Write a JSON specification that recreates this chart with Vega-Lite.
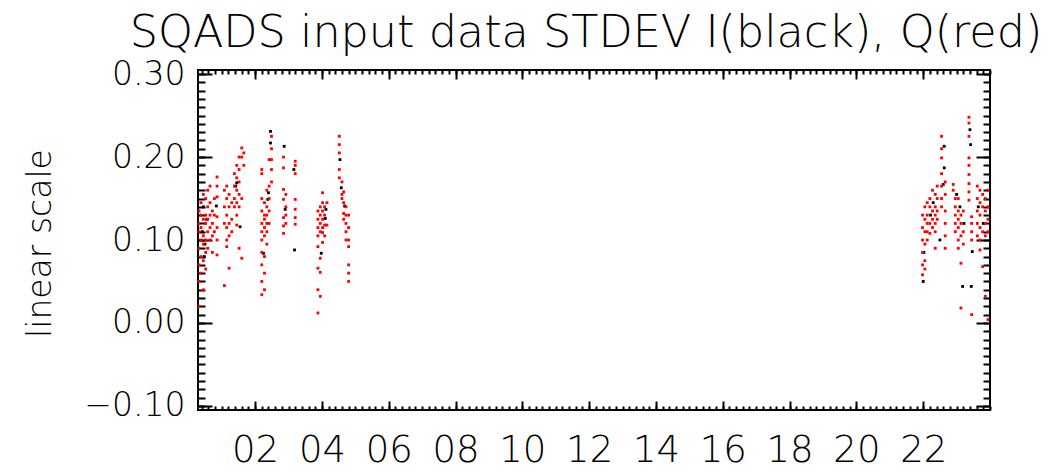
{
  "$schema": "https://vega.github.io/schema/vega-lite/v6.json",
  "width": 792,
  "height": 340,
  "autosize": {"type": "none"},
  "padding": {"left": 198, "top": 70, "right": 65, "bottom": 63},
  "background": "white",
  "title": {"text": "SQADS input data STDEV I(black), Q(red)", "font": "DejaVu Sans", "fontSize": 44.5, "fontWeight": 200, "color": "black", "anchor": "middle", "offset": 2, "dx": -8},
  "config": {
    "view": {"stroke": "black", "strokeWidth": 2},
    "axis": {"domain": false, "grid": false, "tickColor": "black", "tickWidth": 2, "labelColor": "black", "labelFont": "DejaVu Sans", "labelFontWeight": 200, "titleFont": "DejaVu Sans", "titleFontWeight": 200, "titleColor": "black", "labelFlush": false, "labelOverlap": false}
  },
  "data": {"values": [
    {"t":0.45,"v":0.14,"c":"I"},{"t":0.42,"v":0.11,"c":"I"},{"t":0.50,"v":0.095,"c":"I"},{"t":0.48,"v":0.08,"c":"I"},{"t":0.55,"v":0.125,"c":"I"},{"t":0.84,"v":0.141,"c":"I"},{"t":1.42,"v":0.165,"c":"I"},{"t":1.45,"v":0.169,"c":"I"},{"t":1.55,"v":0.116,"c":"I"},{"t":2.40,"v":0.157,"c":"I"},{"t":2.38,"v":0.149,"c":"I"},{"t":2.25,"v":0.084,"c":"I"},{"t":2.46,"v":0.231,"c":"I"},{"t":2.46,"v":0.217,"c":"I"},{"t":2.87,"v":0.213,"c":"I"},{"t":2.90,"v":0.137,"c":"I"},{"t":3.18,"v":0.088,"c":"I"},{"t":3.16,"v":0.185,"c":"I"},{"t":3.98,"v":0.084,"c":"I"},{"t":4.12,"v":0.137,"c":"I"},{"t":4.10,"v":0.126,"c":"I"},{"t":4.54,"v":0.197,"c":"I"},{"t":4.58,"v":0.163,"c":"I"},{"t":4.68,"v":0.141,"c":"I"},{"t":22.02,"v":0.085,"c":"I"},{"t":22.00,"v":0.05,"c":"I"},{"t":22.30,"v":0.145,"c":"I"},{"t":22.22,"v":0.13,"c":"I"},{"t":22.63,"v":0.213,"c":"I"},{"t":22.63,"v":0.187,"c":"I"},{"t":22.60,"v":0.167,"c":"I"},{"t":22.50,"v":0.10,"c":"I"},{"t":23.00,"v":0.155,"c":"I"},{"t":23.10,"v":0.14,"c":"I"},{"t":23.18,"v":0.044,"c":"I"},{"t":23.22,"v":0.12,"c":"I"},{"t":23.40,"v":0.233,"c":"I"},{"t":23.42,"v":0.215,"c":"I"},{"t":23.47,"v":0.086,"c":"I"},{"t":23.44,"v":0.044,"c":"I"},{"t":23.65,"v":0.14,"c":"I"},{"t":23.80,"v":0.12,"c":"I"},
    {"t":0.32,"v":0.05,"c":"Q"},{"t":0.32,"v":0.07,"c":"Q"},{"t":0.32,"v":0.09,"c":"Q"},{"t":0.32,"v":0.11,"c":"Q"},{"t":0.32,"v":0.12,"c":"Q"},{"t":0.32,"v":0.135,"c":"Q"},{"t":0.32,"v":0.02,"c":"Q"},
    {"t":0.38,"v":0.06,"c":"Q"},{"t":0.38,"v":0.08,"c":"Q"},{"t":0.38,"v":0.10,"c":"Q"},{"t":0.38,"v":0.115,"c":"Q"},{"t":0.38,"v":0.13,"c":"Q"},{"t":0.38,"v":0.145,"c":"Q"},
    {"t":0.45,"v":0.04,"c":"Q"},{"t":0.45,"v":0.075,"c":"Q"},{"t":0.45,"v":0.095,"c":"Q"},{"t":0.45,"v":0.105,"c":"Q"},{"t":0.45,"v":0.125,"c":"Q"},{"t":0.45,"v":0.155,"c":"Q"},
    {"t":0.52,"v":0.065,"c":"Q"},{"t":0.52,"v":0.085,"c":"Q"},{"t":0.52,"v":0.10,"c":"Q"},{"t":0.52,"v":0.12,"c":"Q"},{"t":0.52,"v":0.13,"c":"Q"},{"t":0.52,"v":0.15,"c":"Q"},
    {"t":0.58,"v":0.09,"c":"Q"},{"t":0.58,"v":0.11,"c":"Q"},{"t":0.58,"v":0.125,"c":"Q"},{"t":0.58,"v":0.14,"c":"Q"},{"t":0.58,"v":0.16,"c":"Q"},
    {"t":0.65,"v":0.10,"c":"Q"},{"t":0.65,"v":0.115,"c":"Q"},{"t":0.65,"v":0.13,"c":"Q"},{"t":0.65,"v":0.145,"c":"Q"},{"t":0.65,"v":0.165,"c":"Q"},
    {"t":0.72,"v":0.085,"c":"Q"},{"t":0.72,"v":0.105,"c":"Q"},{"t":0.72,"v":0.12,"c":"Q"},{"t":0.72,"v":0.135,"c":"Q"},
    {"t":0.78,"v":0.11,"c":"Q"},{"t":0.78,"v":0.13,"c":"Q"},{"t":0.78,"v":0.15,"c":"Q"},
    {"t":0.86,"v":0.176,"c":"Q"},{"t":0.86,"v":0.165,"c":"Q"},{"t":0.86,"v":0.152,"c":"Q"},{"t":0.86,"v":0.128,"c":"Q"},{"t":0.86,"v":0.115,"c":"Q"},{"t":0.86,"v":0.10,"c":"Q"},{"t":0.86,"v":0.082,"c":"Q"},
    {"t":1.08,"v":0.16,"c":"Q"},{"t":1.08,"v":0.14,"c":"Q"},{"t":1.08,"v":0.12,"c":"Q"},{"t":1.08,"v":0.045,"c":"Q"},
    {"t":1.15,"v":0.165,"c":"Q"},{"t":1.15,"v":0.15,"c":"Q"},{"t":1.15,"v":0.13,"c":"Q"},{"t":1.15,"v":0.115,"c":"Q"},{"t":1.15,"v":0.10,"c":"Q"},{"t":1.15,"v":0.092,"c":"Q"},
    {"t":1.22,"v":0.155,"c":"Q"},{"t":1.22,"v":0.14,"c":"Q"},{"t":1.22,"v":0.12,"c":"Q"},{"t":1.22,"v":0.105,"c":"Q"},{"t":1.22,"v":0.066,"c":"Q"},
    {"t":1.30,"v":0.145,"c":"Q"},{"t":1.30,"v":0.125,"c":"Q"},{"t":1.30,"v":0.11,"c":"Q"},
    {"t":1.38,"v":0.18,"c":"Q"},{"t":1.38,"v":0.165,"c":"Q"},{"t":1.38,"v":0.15,"c":"Q"},{"t":1.38,"v":0.14,"c":"Q"},
    {"t":1.45,"v":0.19,"c":"Q"},{"t":1.45,"v":0.175,"c":"Q"},{"t":1.45,"v":0.16,"c":"Q"},{"t":1.45,"v":0.145,"c":"Q"},{"t":1.45,"v":0.13,"c":"Q"},{"t":1.45,"v":0.118,"c":"Q"},
    {"t":1.52,"v":0.20,"c":"Q"},{"t":1.52,"v":0.185,"c":"Q"},{"t":1.52,"v":0.17,"c":"Q"},{"t":1.52,"v":0.155,"c":"Q"},{"t":1.52,"v":0.14,"c":"Q"},{"t":1.52,"v":0.09,"c":"Q"},
    {"t":1.60,"v":0.211,"c":"Q"},{"t":1.60,"v":0.20,"c":"Q"},{"t":1.60,"v":0.15,"c":"Q"},{"t":1.60,"v":0.078,"c":"Q"},
    {"t":1.66,"v":0.205,"c":"Q"},{"t":1.66,"v":0.19,"c":"Q"},
    {"t":2.20,"v":0.185,"c":"Q"},{"t":2.20,"v":0.18,"c":"Q"},{"t":2.20,"v":0.15,"c":"Q"},{"t":2.20,"v":0.135,"c":"Q"},{"t":2.20,"v":0.12,"c":"Q"},{"t":2.20,"v":0.11,"c":"Q"},{"t":2.20,"v":0.10,"c":"Q"},{"t":2.20,"v":0.085,"c":"Q"},{"t":2.20,"v":0.07,"c":"Q"},{"t":2.20,"v":0.05,"c":"Q"},{"t":2.20,"v":0.034,"c":"Q"},
    {"t":2.28,"v":0.145,"c":"Q"},{"t":2.28,"v":0.13,"c":"Q"},{"t":2.28,"v":0.125,"c":"Q"},{"t":2.28,"v":0.115,"c":"Q"},{"t":2.28,"v":0.105,"c":"Q"},{"t":2.28,"v":0.08,"c":"Q"},{"t":2.28,"v":0.06,"c":"Q"},{"t":2.28,"v":0.04,"c":"Q"},
    {"t":2.35,"v":0.16,"c":"Q"},{"t":2.35,"v":0.14,"c":"Q"},{"t":2.35,"v":0.13,"c":"Q"},{"t":2.35,"v":0.12,"c":"Q"},{"t":2.35,"v":0.11,"c":"Q"},{"t":2.35,"v":0.095,"c":"Q"},
    {"t":2.42,"v":0.197,"c":"Q"},{"t":2.42,"v":0.165,"c":"Q"},{"t":2.42,"v":0.15,"c":"Q"},{"t":2.42,"v":0.135,"c":"Q"},{"t":2.42,"v":0.12,"c":"Q"},
    {"t":2.49,"v":0.225,"c":"Q"},{"t":2.49,"v":0.21,"c":"Q"},{"t":2.49,"v":0.197,"c":"Q"},{"t":2.49,"v":0.185,"c":"Q"},{"t":2.49,"v":0.17,"c":"Q"},
    {"t":2.85,"v":0.20,"c":"Q"},{"t":2.85,"v":0.187,"c":"Q"},{"t":2.85,"v":0.161,"c":"Q"},{"t":2.85,"v":0.149,"c":"Q"},{"t":2.85,"v":0.127,"c":"Q"},{"t":2.85,"v":0.117,"c":"Q"},{"t":2.85,"v":0.108,"c":"Q"},
    {"t":2.92,"v":0.155,"c":"Q"},{"t":2.92,"v":0.14,"c":"Q"},{"t":2.92,"v":0.13,"c":"Q"},{"t":2.92,"v":0.12,"c":"Q"},
    {"t":3.20,"v":0.195,"c":"Q"},{"t":3.20,"v":0.19,"c":"Q"},{"t":3.20,"v":0.18,"c":"Q"},{"t":3.20,"v":0.149,"c":"Q"},{"t":3.20,"v":0.137,"c":"Q"},{"t":3.20,"v":0.127,"c":"Q"},{"t":3.20,"v":0.119,"c":"Q"},
    {"t":3.88,"v":0.135,"c":"Q"},{"t":3.88,"v":0.125,"c":"Q"},{"t":3.88,"v":0.115,"c":"Q"},{"t":3.88,"v":0.105,"c":"Q"},{"t":3.88,"v":0.092,"c":"Q"},{"t":3.88,"v":0.066,"c":"Q"},{"t":3.88,"v":0.04,"c":"Q"},{"t":3.88,"v":0.012,"c":"Q"},
    {"t":3.95,"v":0.14,"c":"Q"},{"t":3.95,"v":0.13,"c":"Q"},{"t":3.95,"v":0.12,"c":"Q"},{"t":3.95,"v":0.11,"c":"Q"},{"t":3.95,"v":0.078,"c":"Q"},{"t":3.95,"v":0.061,"c":"Q"},{"t":3.95,"v":0.032,"c":"Q"},
    {"t":4.02,"v":0.157,"c":"Q"},{"t":4.02,"v":0.145,"c":"Q"},{"t":4.02,"v":0.135,"c":"Q"},{"t":4.02,"v":0.125,"c":"Q"},{"t":4.02,"v":0.115,"c":"Q"},{"t":4.02,"v":0.109,"c":"Q"},{"t":4.02,"v":0.097,"c":"Q"},
    {"t":4.08,"v":0.14,"c":"Q"},{"t":4.08,"v":0.13,"c":"Q"},{"t":4.08,"v":0.118,"c":"Q"},{"t":4.08,"v":0.105,"c":"Q"},
    {"t":4.15,"v":0.145,"c":"Q"},{"t":4.15,"v":0.118,"c":"Q"},
    {"t":4.52,"v":0.225,"c":"Q"},{"t":4.52,"v":0.215,"c":"Q"},{"t":4.52,"v":0.205,"c":"Q"},{"t":4.52,"v":0.185,"c":"Q"},{"t":4.52,"v":0.175,"c":"Q"},
    {"t":4.60,"v":0.17,"c":"Q"},{"t":4.60,"v":0.155,"c":"Q"},{"t":4.60,"v":0.15,"c":"Q"},
    {"t":4.65,"v":0.158,"c":"Q"},{"t":4.65,"v":0.145,"c":"Q"},{"t":4.65,"v":0.132,"c":"Q"},{"t":4.65,"v":0.125,"c":"Q"},
    {"t":4.72,"v":0.14,"c":"Q"},{"t":4.72,"v":0.13,"c":"Q"},{"t":4.72,"v":0.12,"c":"Q"},{"t":4.72,"v":0.11,"c":"Q"},{"t":4.72,"v":0.10,"c":"Q"},
    {"t":4.80,"v":0.13,"c":"Q"},{"t":4.80,"v":0.115,"c":"Q"},{"t":4.80,"v":0.10,"c":"Q"},{"t":4.80,"v":0.092,"c":"Q"},{"t":4.80,"v":0.07,"c":"Q"},{"t":4.80,"v":0.06,"c":"Q"},{"t":4.80,"v":0.05,"c":"Q"},
    {"t":21.98,"v":0.13,"c":"Q"},{"t":21.98,"v":0.115,"c":"Q"},{"t":21.98,"v":0.10,"c":"Q"},{"t":21.98,"v":0.085,"c":"Q"},{"t":21.98,"v":0.07,"c":"Q"},{"t":21.98,"v":0.058,"c":"Q"},
    {"t":22.05,"v":0.14,"c":"Q"},{"t":22.05,"v":0.125,"c":"Q"},{"t":22.05,"v":0.11,"c":"Q"},{"t":22.05,"v":0.095,"c":"Q"},{"t":22.05,"v":0.075,"c":"Q"},{"t":22.05,"v":0.065,"c":"Q"},
    {"t":22.12,"v":0.145,"c":"Q"},{"t":22.12,"v":0.13,"c":"Q"},{"t":22.12,"v":0.12,"c":"Q"},{"t":22.12,"v":0.11,"c":"Q"},{"t":22.12,"v":0.10,"c":"Q"},
    {"t":22.20,"v":0.15,"c":"Q"},{"t":22.20,"v":0.14,"c":"Q"},{"t":22.20,"v":0.12,"c":"Q"},{"t":22.20,"v":0.108,"c":"Q"},
    {"t":22.28,"v":0.16,"c":"Q"},{"t":22.28,"v":0.135,"c":"Q"},{"t":22.28,"v":0.125,"c":"Q"},{"t":22.28,"v":0.115,"c":"Q"},
    {"t":22.36,"v":0.155,"c":"Q"},{"t":22.36,"v":0.14,"c":"Q"},{"t":22.36,"v":0.13,"c":"Q"},{"t":22.36,"v":0.12,"c":"Q"},{"t":22.36,"v":0.11,"c":"Q"},{"t":22.36,"v":0.09,"c":"Q"},
    {"t":22.42,"v":0.165,"c":"Q"},{"t":22.42,"v":0.15,"c":"Q"},{"t":22.42,"v":0.135,"c":"Q"},{"t":22.42,"v":0.125,"c":"Q"},
    {"t":22.55,"v":0.225,"c":"Q"},{"t":22.55,"v":0.21,"c":"Q"},{"t":22.55,"v":0.199,"c":"Q"},{"t":22.55,"v":0.18,"c":"Q"},{"t":22.55,"v":0.165,"c":"Q"},{"t":22.55,"v":0.15,"c":"Q"},{"t":22.55,"v":0.14,"c":"Q"},
    {"t":22.66,"v":0.17,"c":"Q"},{"t":22.66,"v":0.155,"c":"Q"},{"t":22.66,"v":0.135,"c":"Q"},{"t":22.66,"v":0.12,"c":"Q"},{"t":22.66,"v":0.105,"c":"Q"},{"t":22.66,"v":0.09,"c":"Q"},
    {"t":22.90,"v":0.167,"c":"Q"},{"t":22.90,"v":0.16,"c":"Q"},
    {"t":22.96,"v":0.15,"c":"Q"},{"t":22.96,"v":0.14,"c":"Q"},{"t":22.96,"v":0.13,"c":"Q"},{"t":22.96,"v":0.12,"c":"Q"},{"t":22.96,"v":0.11,"c":"Q"},
    {"t":23.05,"v":0.15,"c":"Q"},{"t":23.05,"v":0.135,"c":"Q"},{"t":23.05,"v":0.125,"c":"Q"},{"t":23.05,"v":0.115,"c":"Q"},{"t":23.05,"v":0.10,"c":"Q"},{"t":23.05,"v":0.09,"c":"Q"},
    {"t":23.13,"v":0.13,"c":"Q"},{"t":23.13,"v":0.12,"c":"Q"},{"t":23.13,"v":0.105,"c":"Q"},{"t":23.13,"v":0.072,"c":"Q"},{"t":23.13,"v":0.018,"c":"Q"},
    {"t":23.20,"v":0.135,"c":"Q"},{"t":23.20,"v":0.11,"c":"Q"},{"t":23.20,"v":0.095,"c":"Q"},
    {"t":23.37,"v":0.248,"c":"Q"},{"t":23.37,"v":0.241,"c":"Q"},{"t":23.37,"v":0.225,"c":"Q"},{"t":23.37,"v":0.199,"c":"Q"},{"t":23.37,"v":0.19,"c":"Q"},{"t":23.37,"v":0.179,"c":"Q"},{"t":23.37,"v":0.168,"c":"Q"},{"t":23.37,"v":0.158,"c":"Q"},{"t":23.37,"v":0.148,"c":"Q"},
    {"t":23.45,"v":0.128,"c":"Q"},{"t":23.45,"v":0.12,"c":"Q"},{"t":23.45,"v":0.11,"c":"Q"},{"t":23.45,"v":0.10,"c":"Q"},{"t":23.45,"v":0.01,"c":"Q"},
    {"t":23.62,"v":0.165,"c":"Q"},{"t":23.62,"v":0.15,"c":"Q"},{"t":23.62,"v":0.135,"c":"Q"},{"t":23.62,"v":0.12,"c":"Q"},{"t":23.62,"v":0.105,"c":"Q"},
    {"t":23.70,"v":0.16,"c":"Q"},{"t":23.70,"v":0.145,"c":"Q"},{"t":23.70,"v":0.13,"c":"Q"},{"t":23.70,"v":0.115,"c":"Q"},{"t":23.70,"v":0.10,"c":"Q"},{"t":23.70,"v":0.088,"c":"Q"},
    {"t":23.78,"v":0.155,"c":"Q"},{"t":23.78,"v":0.14,"c":"Q"},{"t":23.78,"v":0.11,"c":"Q"},{"t":23.78,"v":0.068,"c":"Q"},
    {"t":23.86,"v":0.15,"c":"Q"},{"t":23.86,"v":0.135,"c":"Q"},{"t":23.86,"v":0.12,"c":"Q"},{"t":23.86,"v":0.105,"c":"Q"},{"t":23.86,"v":0.032,"c":"Q"},
    {"t":23.94,"v":0.16,"c":"Q"},{"t":23.94,"v":0.14,"c":"Q"},{"t":23.94,"v":0.125,"c":"Q"},{"t":23.94,"v":0.11,"c":"Q"},{"t":23.94,"v":0.004,"c":"Q"}
  ]},
  "layer": [
    {
      "transform": [{"filter": "datum.c == 'I'"}],
      "mark": {"type": "square", "size": 8, "filled": true, "opacity": 1, "color": "black"},
      "encoding": {
        "x": {"field": "t", "type": "quantitative", "scale": {"domain": [0.29, 24], "nice": false, "zero": false},
              "axis": {"orient": "bottom", "values": [2,4,6,8,10,12,14,16,18,20,22], "format": "02d", "tickSize": -9, "labelFontSize": 37, "labelPadding": 31, "title": null}},
        "y": {"field": "v", "type": "quantitative", "scale": {"domain": [-0.105, 0.305], "nice": false, "zero": false},
              "axis": {"orient": "left", "values": [-0.1, 0, 0.1, 0.2, 0.3], "format": ".2f", "tickSize": -14, "labelFontSize": 33, "labelPadding": 27, "title": "linear scale", "titleFontSize": 33, "titleX": -158, "titleY": 173, "titleBaseline": "middle", "titleAngle": -90, "titleAlign": "center"}}
      }
    },
    {
      "transform": [{"filter": "datum.c == 'Q'"}],
      "mark": {"type": "square", "size": 8, "filled": true, "opacity": 1, "color": "red"},
      "encoding": {
        "x": {"field": "t", "type": "quantitative", "axis": {"orient": "top", "values": [2,4,6,8,10,12,14,16,18,20,22], "tickSize": -9, "labels": false, "title": null}},
        "y": {"field": "v", "type": "quantitative", "axis": {"orient": "right", "values": [-0.1, 0, 0.1, 0.2, 0.3], "tickSize": -14, "labels": false, "title": null}}
      }
    },
    {
      "mark": {"type": "point", "opacity": 0},
      "encoding": {
        "x": {"field": "t", "type": "quantitative", "axis": {"orient": "bottom", "tickCount": 120, "tickSize": -4, "labels": false, "title": null}},
        "y": {"field": "v", "type": "quantitative", "axis": {"orient": "left", "tickCount": 40, "tickSize": -7, "labels": false, "title": null}}
      }
    },
    {
      "mark": {"type": "point", "opacity": 0},
      "encoding": {
        "x": {"field": "t", "type": "quantitative", "axis": {"orient": "top", "tickCount": 120, "tickSize": -4, "labels": false, "title": null}},
        "y": {"field": "v", "type": "quantitative", "axis": {"orient": "right", "tickCount": 40, "tickSize": -7, "labels": false, "title": null}}
      }
    }
  ],
  "resolve": {"axis": {"x": "independent", "y": "independent"}}
}
